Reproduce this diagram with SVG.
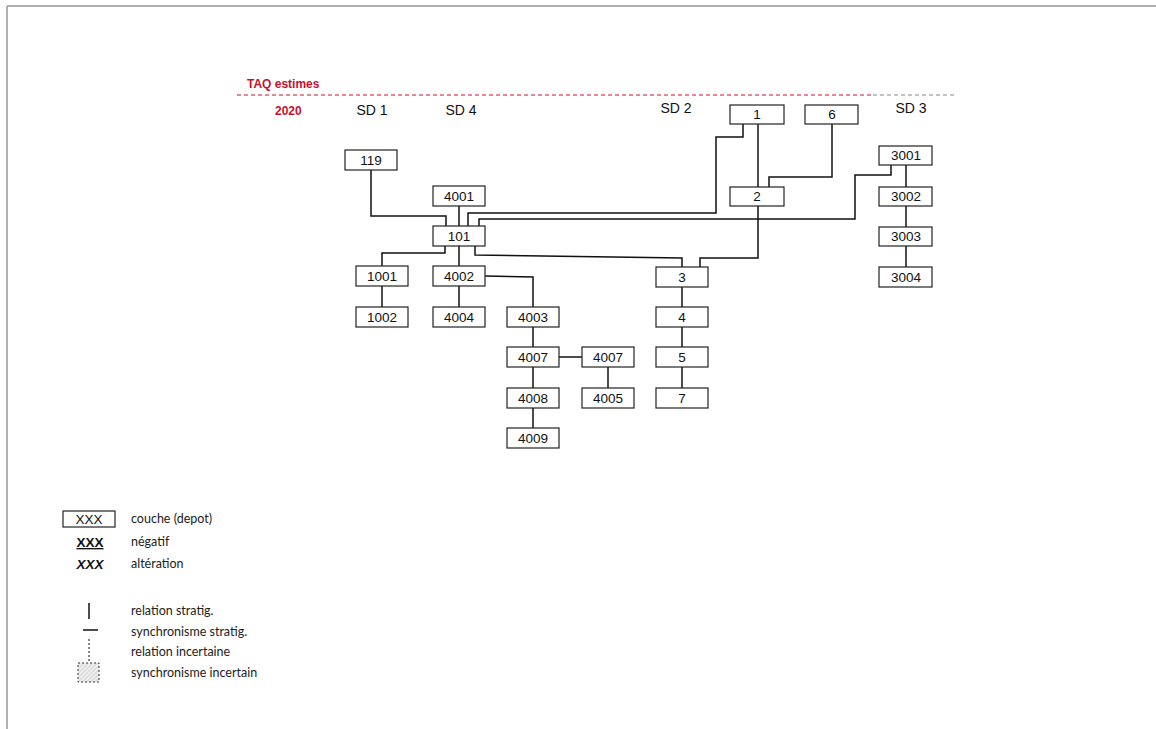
<svg xmlns="http://www.w3.org/2000/svg" width="1156" height="729" viewBox="0 0 1156 729">
<defs>
<style>
.box{fill:#fff;stroke:#222;stroke-width:1.2}
.nt{font-family:"Liberation Sans",Arial,sans-serif;font-size:13.5px;fill:#111;text-anchor:middle}
.sd{font-family:"Liberation Sans",Arial,sans-serif;font-size:14px;fill:#111;text-anchor:middle}
.red{font-family:"Liberation Sans",Arial,sans-serif;font-size:12px;font-weight:bold;fill:#c8102e}
.lg{font-family:Lato,"Open Sans",sans-serif;font-size:12.5px;fill:#222}
.c{fill:none;stroke:#111;stroke-width:1.5}
</style>
<pattern id="hatch" width="3" height="3" patternUnits="userSpaceOnUse" patternTransform="rotate(45)">
<rect width="3" height="3" fill="#eee"/>
<line x1="0" y1="0" x2="0" y2="3" stroke="#bbb" stroke-width="1"/>
</pattern>
</defs>
<rect width="1156" height="729" fill="#fff"/>
<g id="frame">
<line x1="7" y1="6" x2="1156" y2="6" stroke="#999" stroke-width="1.5"/>
<line x1="7" y1="6" x2="7" y2="729" stroke="#999" stroke-width="1.5"/>
</g>
<g id="header">
<text class="red" x="247" y="88">TAQ estimes</text>
<line x1="237" y1="95" x2="873" y2="95" stroke="#c8102e" stroke-width="1" stroke-dasharray="4,3"/>
<line x1="873" y1="95" x2="956" y2="95" stroke="#888" stroke-width="1" stroke-dasharray="4,3"/>
<text class="red" x="275" y="115">2020</text>
<text class="sd" x="372" y="115">SD 1</text>
<text class="sd" x="461" y="115">SD 4</text>
<text class="sd" x="676" y="113">SD 2</text>
<text class="sd" x="911" y="113">SD 3</text>
</g>
<g id="connectors">
<polyline class="c" points="371,170 371,216 446,216 446,226"/>
<line class="c" x1="459" y1="206" x2="459" y2="226"/>
<polyline class="c" points="743,124 743,137 716,137 716,213 468,213 468,226"/>
<polyline class="c" points="891,165 891,175 855,175 855,219 479,219 479,226"/>
<polyline class="c" points="832,124 832,177 769,177 769,187"/>
<line class="c" x1="758" y1="124" x2="758" y2="187"/>
<polyline class="c" points="445,246 445,253 382,253 382,266"/>
<line class="c" x1="459" y1="246" x2="459" y2="266"/>
<polyline class="c" points="475,246 475,255 682,258 682,267"/>
<polyline class="c" points="758,206 758,258 700,258 700,267"/>
<polyline class="c" points="485,276 533,277 533,307"/>
<line class="c" x1="382" y1="286" x2="382" y2="307"/>
<line class="c" x1="459" y1="286" x2="459" y2="307"/>
<line class="c" x1="533" y1="327" x2="533" y2="428"/>
<line class="c" x1="559" y1="357" x2="582" y2="357"/>
<line class="c" x1="608" y1="367" x2="608" y2="388"/>
<line class="c" x1="682" y1="287" x2="682" y2="388"/>
<line class="c" x1="906" y1="165" x2="906" y2="267"/>
</g>
<g id="n119"><rect class="box" x="345" y="150" width="52" height="20"/><text class="nt" x="371" y="165">119</text></g>
<g id="n4001"><rect class="box" x="433" y="186" width="52" height="20"/><text class="nt" x="459" y="201">4001</text></g>
<g id="n101"><rect class="box" x="433" y="226" width="52" height="20"/><text class="nt" x="459" y="241">101</text></g>
<g id="n1001"><rect class="box" x="356" y="266" width="52" height="20"/><text class="nt" x="382" y="281">1001</text></g>
<g id="n1002"><rect class="box" x="356" y="307" width="52" height="20"/><text class="nt" x="382" y="322">1002</text></g>
<g id="n4002"><rect class="box" x="433" y="266" width="52" height="20"/><text class="nt" x="459" y="281">4002</text></g>
<g id="n4004"><rect class="box" x="433" y="307" width="52" height="20"/><text class="nt" x="459" y="322">4004</text></g>
<g id="n4003"><rect class="box" x="507" y="307" width="52" height="20"/><text class="nt" x="533" y="322">4003</text></g>
<g id="n4007"><rect class="box" x="507" y="347" width="52" height="20"/><text class="nt" x="533" y="362">4007</text></g>
<g id="n4008"><rect class="box" x="507" y="388" width="52" height="20"/><text class="nt" x="533" y="403">4008</text></g>
<g id="n4009"><rect class="box" x="507" y="428" width="52" height="20"/><text class="nt" x="533" y="443">4009</text></g>
<g id="n4007b"><rect class="box" x="582" y="347" width="52" height="20"/><text class="nt" x="608" y="362">4007</text></g>
<g id="n4005"><rect class="box" x="582" y="388" width="52" height="20"/><text class="nt" x="608" y="403">4005</text></g>
<g id="n3"><rect class="box" x="656" y="267" width="52" height="20"/><text class="nt" x="682" y="282">3</text></g>
<g id="n4"><rect class="box" x="656" y="307" width="52" height="20"/><text class="nt" x="682" y="322">4</text></g>
<g id="n5"><rect class="box" x="656" y="347" width="52" height="20"/><text class="nt" x="682" y="362">5</text></g>
<g id="n7"><rect class="box" x="656" y="388" width="52" height="20"/><text class="nt" x="682" y="403">7</text></g>
<g id="n1"><rect class="box" x="730" y="105" width="54" height="19"/><text class="nt" x="757" y="119">1</text></g>
<g id="n6"><rect class="box" x="805" y="105" width="53" height="19"/><text class="nt" x="832" y="119">6</text></g>
<g id="n2"><rect class="box" x="730" y="187" width="54" height="19"/><text class="nt" x="757" y="201">2</text></g>
<g id="n3001"><rect class="box" x="879" y="146" width="53" height="19"/><text class="nt" x="906" y="160">3001</text></g>
<g id="n3002"><rect class="box" x="879" y="187" width="53" height="19"/><text class="nt" x="906" y="201">3002</text></g>
<g id="n3003"><rect class="box" x="879" y="227" width="53" height="19"/><text class="nt" x="906" y="241">3003</text></g>
<g id="n3004"><rect class="box" x="879" y="267" width="53" height="20"/><text class="nt" x="906" y="282">3004</text></g>
<g id="legend">
<rect x="63" y="511" width="52" height="16" fill="#fff" stroke="#222" stroke-width="1.2"/>
<text class="nt" x="89" y="524">XXX</text>
<text class="lg" x="131" y="523">couche (depot)</text>
<text class="nt" x="90" y="547" font-weight="bold" text-decoration="underline">XXX</text>
<text class="lg" x="131" y="546">négatif</text>
<text class="nt" x="90" y="569" font-weight="bold" font-style="italic">XXX</text>
<text class="lg" x="131" y="568">altération</text>
<line x1="89" y1="603" x2="89" y2="619" stroke="#111" stroke-width="1.5"/>
<text class="lg" x="131" y="615">relation stratig.</text>
<line x1="83" y1="630" x2="98" y2="630" stroke="#111" stroke-width="1.5"/>
<text class="lg" x="131" y="636">synchronisme stratig.</text>
<line x1="89" y1="639" x2="89" y2="663" stroke="#111" stroke-width="1" stroke-dasharray="2,2"/>
<text class="lg" x="131" y="656">relation incertaine</text>
<rect x="78" y="663" width="21" height="19" fill="url(#hatch)" stroke="#333" stroke-width="1" stroke-dasharray="2,2"/>
<text class="lg" x="131" y="677">synchronisme incertain</text>
</g>
</svg>
